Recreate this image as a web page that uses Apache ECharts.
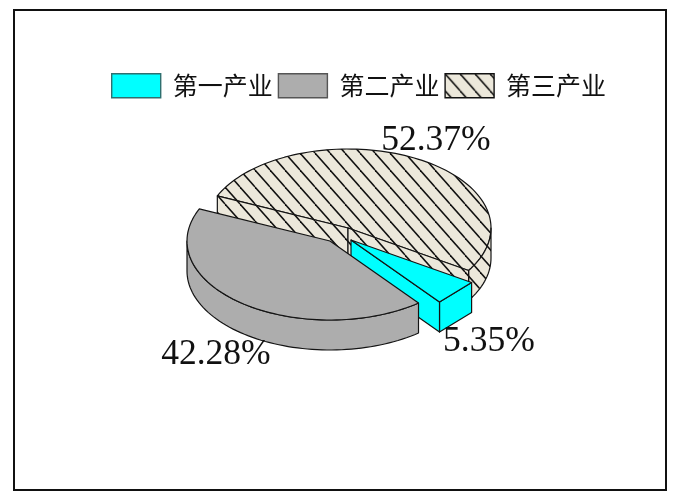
<!DOCTYPE html>
<html>
<head>
<meta charset="utf-8">
<style>html,body{margin:0;padding:0;background:#fff}#c{width:680px;height:500px}</style>
<script src="https://cdn.jsdelivr.net/npm/echarts@6/dist/echarts.min.js"></script>
</head>
<body>
<div id="c"></div>
<script>
const categories = ['第一产业', '第二产业', '第三产业'];
const shares = [5.35, 42.28, 52.37];
const shareLabels = ['5.35%', '42.28%', '52.37%'];

// Layout of the tilted pie: each slice is pulled out to its own centre.
const startAngle = 122.5;
const rx = 143, ry = 79, depth = 30, labelFactor = 1.3, labelDrop = 3;
const centres = [[351, 240], [330, 241], [348, 228]];
const INK = '#141414';

function hatch() {
  const w = 15, h = 17, cv = document.createElement('canvas');
  cv.width = w; cv.height = h;
  const g = cv.getContext('2d');
  g.fillStyle = '#ece8db';
  g.fillRect(0, 0, w, h);
  g.strokeStyle = '#101010';
  g.lineWidth = 1.5;
  for (const d of [-w, 0, w]) {
    g.beginPath(); g.moveTo(d, 0); g.lineTo(d + w, h); g.stroke();
  }
  return { image: cv, repeat: 'repeat' };
}
const fills = ['#00ffff', '#adadad', hatch()];
const total = shares.reduce((a, b) => a + b, 0);

function span(i) {
  let a = startAngle;
  for (let k = 0; k < i; k++) a += shares[k] / total * 360;
  return [a, a + shares[i] / total * 360];
}
function onRim(c, deg, dz) {
  const r = deg * Math.PI / 180;
  return [c[0] + rx * Math.sin(r), c[1] - ry * Math.cos(r) + (dz || 0)];
}
function arc(c, a, b, dz) {
  // a narrow slice is drawn with a straight outer edge, as in the reference
  const n = Math.abs(b - a) < 25 ? 1 : Math.ceil(Math.abs(b - a) / 2), pts = [];
  for (let k = 0; k <= n; k++) pts.push(onRim(c, a + (b - a) * k / n, dz));
  return pts;
}
function poly(points, fill) {
  return { type: 'polygon', shape: { points },
    style: { fill, stroke: INK, lineWidth: 1.2, lineJoin: 'round' } };
}
function faces(i) {
  const c = centres[i], [a, b] = span(i), f = fills[i], out = [];
  const low = [c[0], c[1] + depth];
  // outer rim: only the part between 90 and 270 degrees faces the viewer
  for (const turn of [0, 360]) {
    const from = Math.max(a, 90 + turn), to = Math.min(b, 270 + turn);
    if (to > from) out.push(poly(arc(c, from, to, 0).concat(arc(c, to, from, depth)), f));
  }
  // cut walls seen from the front
  if (i === 0) out.push(poly([c, onRim(c, b), onRim(c, b, depth), low], f));
  if (i === 2) {
    out.push(poly([c, onRim(c, a), onRim(c, a, depth), low], f));
    out.push(poly([c, onRim(c, b), onRim(c, b, depth), low], f));
  }
  return out;
}
function renderSlice(i) {
  return function () {
    const c = centres[i], [a, b] = span(i), mid = (a + b) / 2;
    const top = poly([c].concat(arc(c, a, b, 0)), fills[i]);
    const kids = i === 2 ? [top].concat(faces(i)) : faces(i).concat([top]);
    const r = mid * Math.PI / 180, dy = -ry * Math.cos(r) * labelFactor;
    kids.push({
      type: 'text', z2: 50,
      style: {
        text: shareLabels[i],
        x: c[0] + rx * Math.sin(r) * labelFactor,
        y: c[1] + dy + (dy > 0 ? depth : 0) + labelDrop,
        font: '35.5px "Liberation Serif"', fill: '#111',
        align: 'center', verticalAlign: 'middle'
      }
    });
    return { type: 'group', children: kids };
  };
}
// back slice first, the grey slice overlaps the cyan one
const drawOrder = [2, 0, 1];
const chart = echarts.init(document.getElementById('c'), null, { renderer: 'canvas' });
chart.setOption({
  animation: false,
  backgroundColor: '#fff',
  legend: {
    left: 106, top: 68, itemGap: 5, itemWidth: 49, itemHeight: 24,
    selectedMode: false,
    textStyle: { fontFamily: '"Noto Sans CJK SC"', fontSize: 25, color: '#111', padding: [0, 0, 0, 7] },
    data: categories.map((name, i) => ({
      name, icon: 'rect',
      itemStyle: { color: fills[i], borderColor: i === 0 ? '#2f6f6f' : i === 1 ? '#555' : '#111', borderWidth: 1.4 }
    }))
  },
  graphic: [{
    type: 'rect', silent: true, z: -1,
    shape: { x: 14, y: 10, width: 652, height: 480 },
    style: { fill: '#fff', stroke: '#111', lineWidth: 2 }
  }],
  series: drawOrder.map((i, z) => ({
    type: 'custom', name: categories[i], coordinateSystem: 'none', silent: true, z: 2 + z,
    itemStyle: { color: i === 2 ? '#ece8db' : fills[i] },
    data: [shares[i]],
    renderItem: renderSlice(i)
  }))
});
</script>
</body>
</html>
